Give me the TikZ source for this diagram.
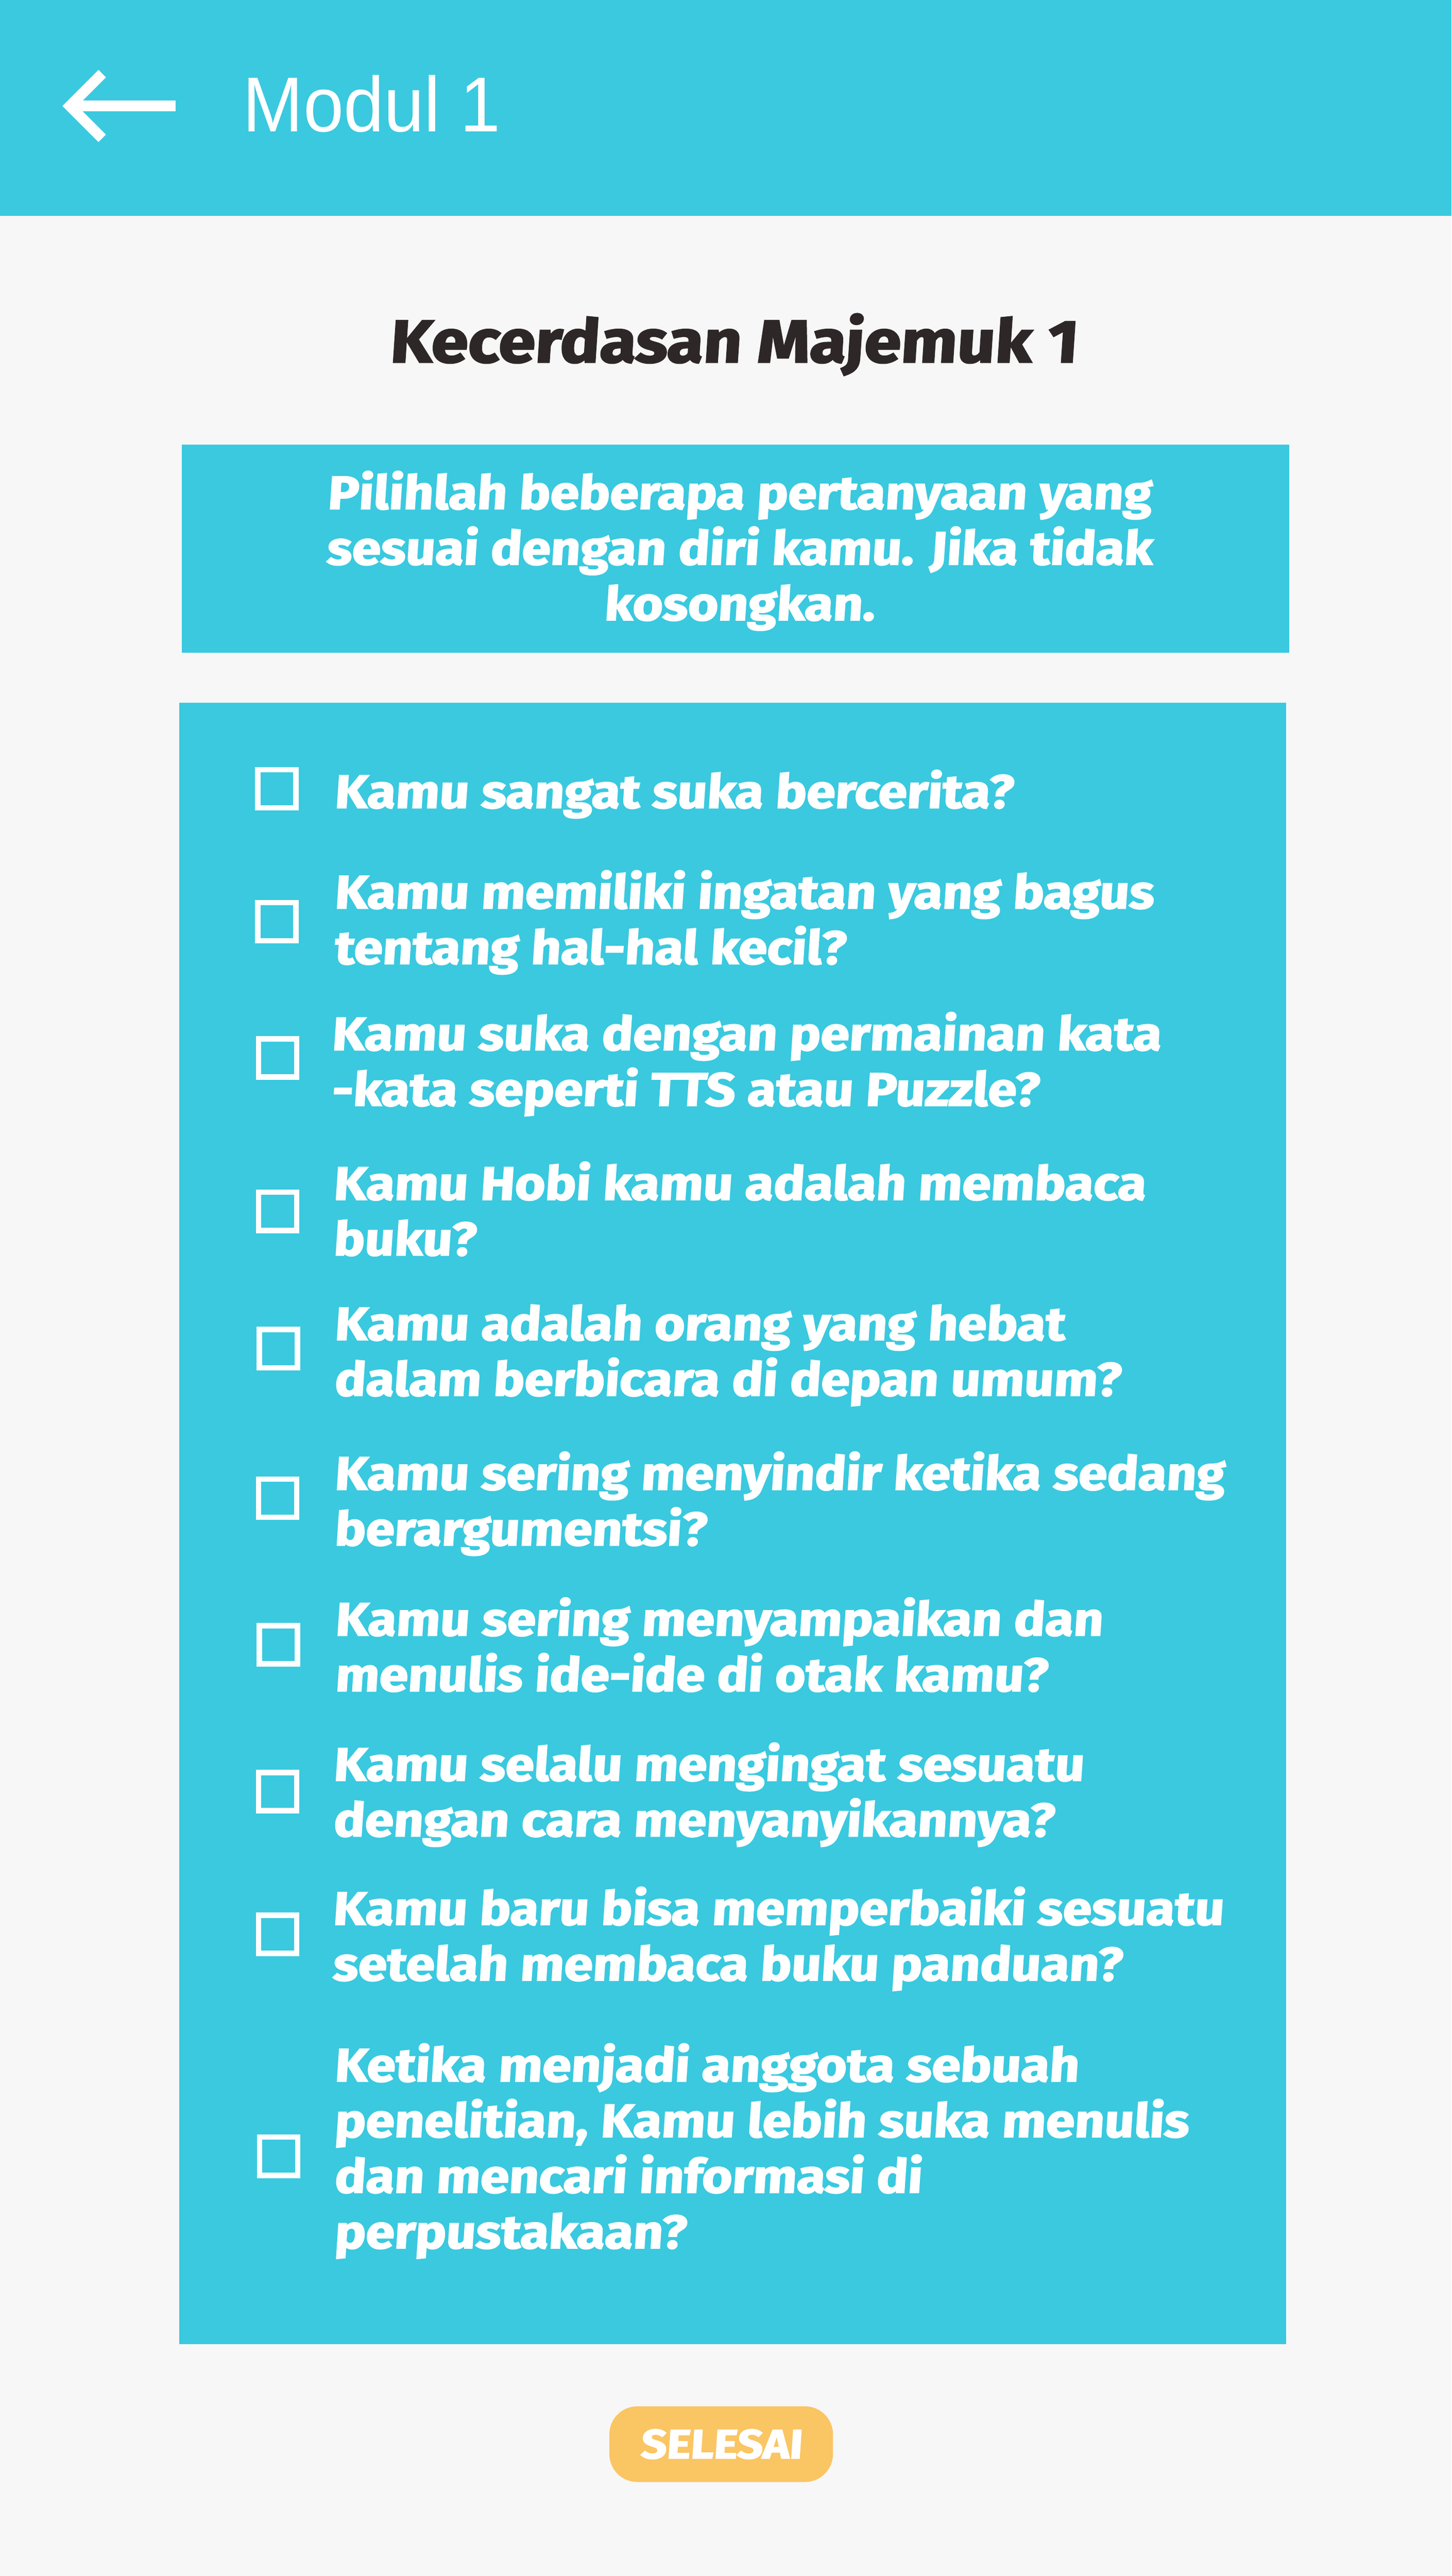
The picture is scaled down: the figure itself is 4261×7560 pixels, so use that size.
\documentclass[tikz,border=0pt]{standalone}
\usepackage{fontspec}
\setmainfont{Fira Sans}
\newfontfamily\appfont{Fira Sans}[FakeSlant=0.06, FakeBold=2.5]
\newfontfamily\headfont{Liberation Sans}
\usetikzlibrary{positioning}
\definecolor{appcyan}{RGB}{58,201,223}
\definecolor{appback}{RGB}{247,247,247}
\definecolor{appdark}{RGB}{46,39,39}
\definecolor{appbutton}{RGB}{250,197,99}

\begin{document}
\begin{tikzpicture}[
        x=0.01cm, y=-0.01cm,
        panel/.style={fill=appcyan, draw=none},
        question/.style={anchor=base west, inner sep=0pt, align=left, text=white, xscale=1.11,
            font=\fontsize{39pt}{46.4pt}\selectfont\appfont\bfseries},
        checkbox/.style={draw=white, line width=0.16cm, minimum size=1.12cm, inner sep=0pt},
        arrowline/.style={draw=white, line width=0.31cm},
    ]

    % page and header
    \useasboundingbox (0,0) rectangle (4261,7560);
    \fill[appback] (0,0) rectangle (4261,7560);
    \fill[appcyan] (0,0) rectangle (4261,633);

    \coordinate (A1) at (300,216);
    \coordinate (A2) at (205,311);
    \coordinate (A3) at (300,406);
    \coordinate (A4) at (515,311);
    \draw[arrowline] (A1) -- (A2) -- (A3);
    \draw[arrowline] (A2) -- (A4);

    \node (T) [anchor=base west, inner sep=0pt, text=white, xscale=0.93,
        font=\fontsize{65pt}{70pt}\selectfont\headfont] at (713,386) {Modul 1};

    % title and hint
    \node (K) [anchor=base, inner sep=0pt, text=appdark, xscale=1.11,
        font=\fontsize{50pt}{56pt}\selectfont\appfont\bfseries] at (2153,1063) {Kecerdasan Majemuk 1};

    \fill[panel] (533,1305) rectangle (3785,1915);
    \node (P) [question, anchor=base, align=center] at (2170,1820)
        {Pilihlah beberapa pertanyaan yang\\sesuai dengan diri kamu. Jika tidak\\kosongkan.};

    % questions
    \fill[panel] (526,2062) rectangle (3776,6879);

    \node[checkbox]  (C1)  at (813,2315) {};
    \node[checkbox]  (C2)  at (813,2705) {};
    \node[checkbox]  (C3)  at (815,3105) {};
    \node[checkbox]  (C4)  at (815,3555) {};
    \node[checkbox]  (C5)  at (817,3958) {};
    \node[checkbox]  (C6)  at (815,4397) {};
    \node[checkbox]  (C7)  at (817,4827) {};
    \node[checkbox]  (C8)  at (815,5258) {};
    \node[checkbox]  (C9)  at (815,5677) {};
    \node[checkbox]  (C10) at (818,6328) {};

    % base of each question is its last line
    \node[question]  (Q1)  at (980,2371) {Kamu sangat suka bercerita?};
    \node[question]  (Q2)  at (980,2829) {Kamu memiliki ingatan yang bagus\\tentang hal-hal kecil?};
    \node[question]  (Q3)  at (972,3245) {Kamu suka dengan permainan kata\\-kata seperti TTS atau Puzzle?};
    \node[question]  (Q4)  at (977,3684) {Kamu Hobi kamu adalah membaca\\buku?};
    \node[question]  (Q5)  at (980,4096) {Kamu adalah orang yang hebat\\dalam berbicara di depan umum?};
    \node[question]  (Q6)  at (980,4535) {Kamu sering menyindir ketika sedang\\berargumentsi?};
    \node[question]  (Q7)  at (982,4963) {Kamu sering menyampaikan dan\\menulis ide-ide di otak kamu?};
    \node[question]  (Q8)  at (977,5389) {Kamu selalu mengingat sesuatu\\dengan cara menyanyikannya?};
    \node[question]  (Q9)  at (975,5812) {Kamu baru bisa memperbaiki sesuatu\\setelah membaca buku panduan?};
    \node[question]  (Q10) at (980,6598) {Ketika menjadi anggota sebuah\\penelitian, Kamu lebih suka menulis\\dan mencari informasi di\\perpustakaan?};

    % button
    \node (B) [fill=appbutton, rounded corners=0.82cm, minimum width=5.91cm, minimum height=2.22cm,
        inner sep=0pt, text=white, xscale=1.11, font=\fontsize{34pt}{38pt}\selectfont\appfont\bfseries]
        at (2117,7173) {SELESAI};

\end{tikzpicture}
\end{document}
